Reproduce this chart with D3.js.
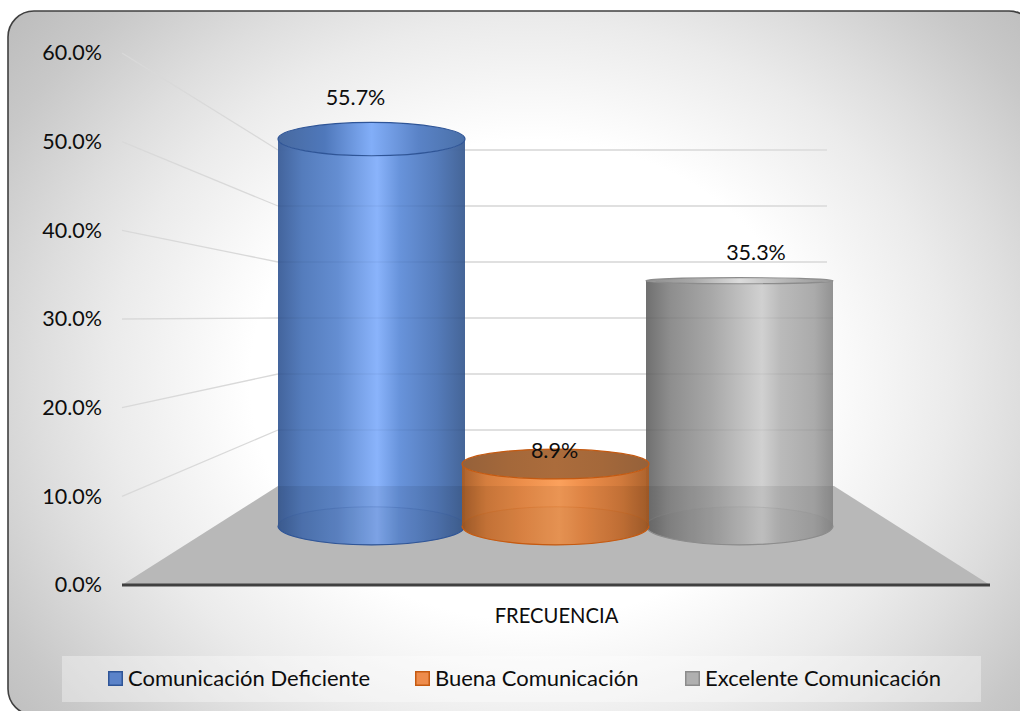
<!DOCTYPE html>
<html><head><meta charset="utf-8">
<style>html,body{margin:0;padding:0;background:#fff}svg{display:block}text{font-family:Lato,"Open Sans",sans-serif;fill:#0d0d0d}</style>
<script src="https://cdn.jsdelivr.net/npm/d3@7"></script>
</head><body>
<script>
const categories = ["Comunicación Deficiente", "Buena Comunicación", "Excelente Comunicación"];
const values = [55.7, 8.9, 35.3];
const tickValues = [0, 10, 20, 30, 40, 50, 60];
const axisCategory = "FRECUENCIA";
const palette = [
  {stroke:"#2f5597", swatch:"#5b83c9", offs:[0,.13,.32,.53,.65,.85,1], top:["#47699f","#4f78bb","#82aef8","#5a83c7","#4a70a8"], side:["#3d5f99","#4f78ba","#5f8ad0","#86b1fb","#6390da","#4f77b8","#3f6094"]},
  {stroke:"#c55a11", swatch:"#ee8c4c", offs:[0,.13,.32,.52,.65,.85,1], top:["#95613a","#a4683a","#ab6c3c","#a4683a","#95613a"], side:["#a85d26","#d47a38","#ec8b45","#fb9e57","#ee8b45","#d07636","#a85d26"]},
  {stroke:"#8c8c8c", swatch:"#b0b0b0", offs:[0,.13,.35,.62,.72,.9,1], top:["#8f8f8f","#a8a8a8","#dcdcdc","#b5b5b5","#969696"], side:["#6b6b6b","#8a8a8a","#a5a5a5","#cfcfcf","#b8b8b8","#a8a8a8","#8f8f8f"]}
];
const W = 1020, H = 711;
const svg = d3.select("body").append("svg").attr("width",W).attr("height",H);
const defs = svg.append("defs");

const bg = defs.append("radialGradient").attr("id","bg").attr("gradientUnits","userSpaceOnUse")
  .attr("cx",0).attr("cy",0).attr("r",1)
  .attr("gradientTransform","translate(530 380) scale(700 600)");
[[0,"#ffffff"],[.4,"#ffffff"],[.6,"#ebebeb"],[.7,"#dedede"],[.85,"#c8c8c8"],[1,"#b8b8b8"]].forEach(s=>bg.append("stop").attr("offset",s[0]).attr("stop-color",s[1]));

svg.append("rect").attr("x",8).attr("y",11).attr("width",1027).attr("height",704).attr("rx",26)
  .attr("fill","url(#bg)").attr("stroke","#404040").attr("stroke-width",1.6);

// Perspective scales: front edge of the walls, back wall, bar plane
const frontY = d3.scaleLinear().domain([0,60]).range([585,53]);
const backY = d3.scaleLinear().domain([0,60]).range([486,150]);
const barY = d3.scaleLinear().domain([0,60]).range([525.8,109.2]);
const ellipseRy = d3.scaleLinear().domain([139,281,525.8]).range([16.7,3,19]);
const leftFront = 122, leftBack = 278, rightFront = 990, rightBack = 827;

// Floor
svg.append("polygon").attr("fill","#b8b8b8")
  .attr("points",[[leftFront,frontY(0)],[leftBack,backY(0)],[834,backY(0)],[rightFront,frontY(0)]].join(" "));

// Gridlines: side wall + back wall
const grid = svg.append("g").attr("fill","none");
tickValues.filter(t=>t>0).forEach(t=>{
  grid.append("line").attr("x1",leftFront).attr("y1",frontY(t)).attr("x2",leftBack).attr("y2",backY(t))
    .attr("stroke","#d9d9d9").attr("stroke-width",1.3);
  grid.append("line").attr("x1",leftBack).attr("y1",backY(t)).attr("x2",rightBack).attr("y2",backY(t))
    .attr("stroke","#e0e0e0").attr("stroke-width",1.8);
});

// Axis line
svg.append("line").attr("x1",leftFront).attr("x2",rightFront).attr("y1",frontY(0)).attr("y2",frontY(0))
  .attr("stroke","#404040").attr("stroke-width",3);

// Tick labels through a d3 axis
const axisG = svg.append("g").attr("transform","translate(102,0)")
  .call(d3.axisLeft(frontY).tickValues(tickValues).tickSize(0).tickPadding(0).tickFormat(d=>d.toFixed(1)+"%"));
axisG.select(".domain").remove();
axisG.selectAll("text").attr("font-size",21.5).style("font-family","Lato,'Open Sans',sans-serif").attr("fill","#0d0d0d");

svg.append("text").attr("x",556.5).attr("y",623).attr("text-anchor","middle").attr("font-size",20.2).text(axisCategory);

// Bars
const xPoint = d3.scalePoint().domain(categories).range([371.5,739.5]);
const barRx = 93.5;
palette.forEach((p,i)=>{
  const g = defs.append("linearGradient").attr("id","side"+i);
  p.side.forEach((c,k)=>g.append("stop").attr("offset",p.offs[k]).attr("stop-color",c));
  const t = defs.append("linearGradient").attr("id","top"+i);
  p.top.forEach((c,k)=>t.append("stop").attr("offset",[0,.25,.5,.75,1][k]).attr("stop-color",c));
});

const order = [0,2,1];
order.forEach(i=>{
  const v = values[i], c = categories[i], p = palette[i];
  const cx = xPoint(c), rx = barRx;
  const yT = barY(v), yB = barY(0), ryT = ellipseRy(yT), ryB = ellipseRy(yB);
  const b = svg.append("g");
  b.append("path").attr("fill",`url(#side${i})`).attr("fill-opacity",.97)
    .attr("d",`M${cx-rx},${yT}A${rx},${ryT} 0 0 0 ${cx+rx},${yT}L${cx+rx},${yB}A${rx},${ryB} 0 0 1 ${cx-rx},${yB}Z`);
  // floor's back edge seen through the bar, clipped to the cylinder outline
  b.append("path").attr("fill","#000").attr("fill-opacity",.06)
    .attr("d",`M${cx-rx},${backY(0)}L${cx+rx},${backY(0)}L${cx+rx},${yB}A${rx},${ryB} 0 0 1 ${cx-rx},${yB}Z`);
  // wall gridlines seen through the bar
  tickValues.filter(t=>t>0 && backY(t)>yT+ryT).forEach(t=>b.append("line").attr("x1",cx-rx).attr("x2",cx+rx)
    .attr("y1",backY(t)).attr("y2",backY(t)).attr("stroke","#000").attr("stroke-opacity",.035).attr("stroke-width",1.5));
  // base ellipse
  b.append("ellipse").attr("cx",cx).attr("cy",yB).attr("rx",rx).attr("ry",ryB)
    .attr("fill","#000").attr("fill-opacity",.02).attr("stroke",p.stroke).attr("stroke-opacity",.25).attr("stroke-width",1);
  b.append("path").attr("fill","none").attr("stroke",p.stroke).attr("stroke-width",1.2)
    .attr("d",`M${cx-rx},${yB}A${rx},${ryB} 0 0 0 ${cx+rx},${yB}`);
  b.append("ellipse").attr("cx",cx).attr("cy",yT).attr("rx",rx).attr("ry",ryT)
    .attr("fill",`url(#top${i})`).attr("stroke",p.stroke).attr("stroke-width",1.2);
});

// Data labels
const labelDx = [-16,-1,16.5], labelDy = [-34,-6,-21];
values.forEach((v,i)=>{
  const c = categories[i];
  svg.append("text").attr("x",xPoint(c)+labelDx[i]).attr("y",barY(v)+labelDy[i])
    .attr("text-anchor","middle").attr("font-size",21.5).text(v.toFixed(1)+"%");
});

// Legend
svg.append("rect").attr("x",62).attr("y",656).attr("width",919).attr("height",46).attr("fill","#fff").attr("fill-opacity",.35);
const legendX = [108,415,685];
categories.forEach((c,i)=>{
  svg.append("rect").attr("x",legendX[i]+.75).attr("y",671.75).attr("width",13.5).attr("height",13.5)
    .attr("fill",palette[i].swatch).attr("stroke",palette[i].stroke).attr("stroke-width",1.5);
  svg.append("text").attr("x",legendX[i]+20).attr("y",686).attr("font-size",22).text(c);
});
</script>
</body></html>
